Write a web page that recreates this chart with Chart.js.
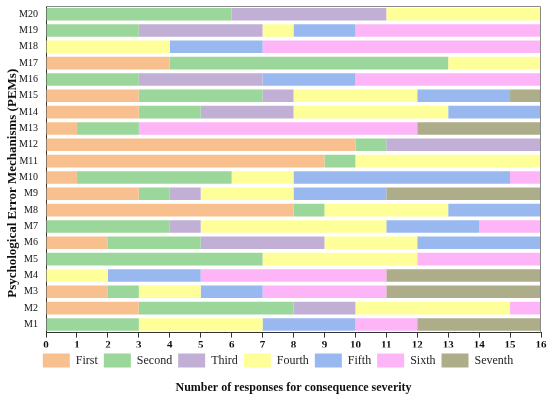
<!DOCTYPE html>
<html><head><meta charset="utf-8">
<script src="https://cdn.jsdelivr.net/npm/chart.js@4/dist/chart.umd.min.js"></script>
<style>html,body{margin:0;padding:0;background:#fff}#wrap{width:550px;height:397px;position:relative}</style>
</head><body><div id="wrap"><canvas id="c"></canvas></div>
<script>
const categories = ['M1','M2','M3','M4','M5','M6','M7','M8','M9','M10','M11','M12','M13','M14','M15','M16','M17','M18','M19','M20'];
const seriesNames = ['First','Second','Third','Fourth','Fifth','Sixth','Seventh'];
const first   = [0,3,2,0,0,2,0,8,3,1,9,10,1,3,3,0,4,0,0,0];
const second  = [3,5,1,0,7,3,4,1,1,5,1,1,2,2,4,3,9,0,3,6];
const third   = [0,2,0,0,0,4,1,0,1,0,0,5,0,3,1,4,0,0,4,5];
const fourth  = [4,5,2,2,5,3,6,4,3,2,6,0,0,5,4,0,3,4,1,5];
const fifth   = [3,0,2,3,0,4,3,3,3,7,0,0,0,3,3,3,0,3,2,0];
const sixth   = [2,1,4,6,4,0,2,0,0,1,0,0,9,0,0,6,0,9,6,0];
const seventh = [4,0,5,5,0,0,0,0,5,0,0,0,4,0,1,0,0,0,0,0];
const xTicks = [0,1,2,3,4,5,6,7,8,9,10,11,12,13,14,15,16];
const colors = ['#F9C08F','#9BD69B','#C2AFD6','#FFFF99','#99B8F0','#FDB5F7','#ADAD8A'];
const yTitle = 'Psychological Error Mechanisms (PEMs)';
const xTitle = 'Number of responses for consequence severity';

const seriesData = [first, second, third, fourth, fifth, sixth, seventh];
const FONT = "'Liberation Serif', 'Times New Roman', serif";

const frame = {
  id: 'frame',
  afterDatasetsDraw(chart) {
    const {ctx, chartArea: a} = chart;
    ctx.save();
    ctx.strokeStyle = '#8a8a8a';
    ctx.lineWidth = 1;
    ctx.beginPath();
    ctx.moveTo(a.left, a.top + 0.5);
    ctx.lineTo(a.right - 0.5, a.top + 0.5);
    ctx.lineTo(a.right - 0.5, a.bottom);
    ctx.stroke();
    ctx.restore();
  },
  afterDraw(chart) {
    const {ctx, chartArea: a} = chart;
    ctx.save();
    ctx.translate(13, (a.top + a.bottom) / 2 + 14);
    ctx.rotate(-Math.PI / 2);
    ctx.font = "bold 13px " + FONT;
    ctx.fillStyle = '#111';
    ctx.textAlign = 'center';
    ctx.textBaseline = 'middle';
    ctx.fillText(yTitle, 0, 0);
    ctx.restore();
  }
};

new Chart(document.getElementById('c'), {
  type: 'bar',
  data: {
    labels: categories,
    datasets: seriesNames.map((name, i) => ({
      label: name,
      data: seriesData[i],
      backgroundColor: colors[i],
      borderWidth: 0,
      categoryPercentage: 1,
      barPercentage: 0.77
    }))
  },
  options: {
    indexAxis: 'y',
    responsive: true,
    maintainAspectRatio: false,
    animation: false,
    layout: { padding: { top: 6, right: 9, left: 15, bottom: 0 } },
    scales: {
      x: {
        stacked: true,
        min: 0, max: 16,
        afterBuildTicks(scale) { scale.ticks = xTicks.map(v => ({ value: v })); },
        afterFit(scale) { scale.height = 15; },
        grid: { display: true, drawOnChartArea: false, drawTicks: true, tickLength: 5, color: '#333' },
        border: { display: true, color: '#333', width: 1 },
        ticks: { color: '#111', font: { family: FONT, size: 11, weight: 'bold', lineHeight: 1.2 }, padding: 1, maxRotation: 0 }
      },
      y: {
        stacked: true,
        reverse: true,
        afterFit(scale) { scale.width = 31; scale.paddingTop = 0; scale.paddingBottom = 0; },
        grid: { display: false, drawTicks: false },
        border: { display: true, color: '#333', width: 1 },
        ticks: { autoSkip: false, color: '#111', font: { family: FONT, size: 10 }, padding: 8 },
        title: { display: false }
      }
    },
    plugins: {
      legend: {
        position: 'bottom',
        labels: { boxWidth: 27, boxHeight: 14, color: '#222', font: { family: FONT, size: 12 }, padding: 6 }
      },
      title: {
        display: true,
        position: 'bottom',
        fullSize: false,
        text: xTitle,
        color: '#111',
        font: { family: FONT, size: 12, weight: 'bold' },
        padding: { top: 3, bottom: 2 }
      },
      tooltip: { enabled: false }
    }
  },
  plugins: [frame]
});
</script>
</body></html>
